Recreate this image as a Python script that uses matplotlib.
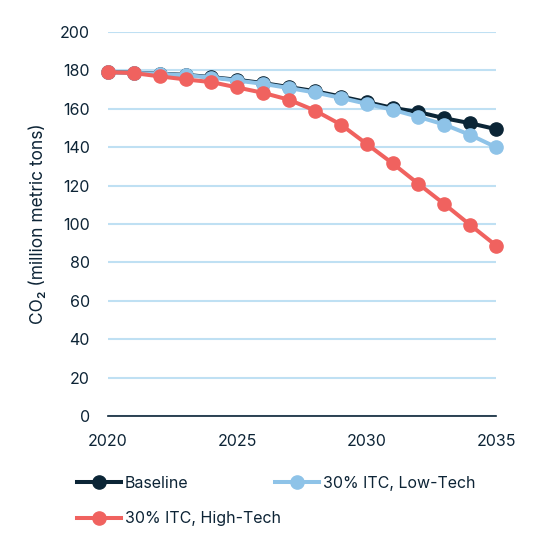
import matplotlib
matplotlib.use("Agg")
import matplotlib.pyplot as plt

# --- Data ---
years = list(range(2020, 2036))
baseline = [179.1, 178.8, 178.3, 177.7, 176.5, 175.1, 173.4, 171.3,
            169.2, 166.4, 163.5, 160.5, 158.3, 155.1, 152.5, 149.4]
low_tech = [179.0, 178.7, 178.2, 177.5, 176.3, 174.7, 173.0, 170.8,
            168.5, 165.7, 162.6, 159.5, 155.8, 151.8, 146.4, 140.0]
high_tech = [179.1, 178.6, 176.9, 175.3, 173.9, 171.1, 168.3, 164.7,
             159.1, 151.8, 141.7, 131.6, 120.9, 110.4, 99.5, 88.8]
labels = ["Baseline", "30% ITC, Low-Tech", "30% ITC, High-Tech"]
xticks = [2020, 2025, 2030, 2035]
yticks = list(range(0, 201, 20))

# --- Style ---
text_col = "#0d2436"
grid_col = "#bfe0f3"
colors = ["#0b2536", "#8ec3e8", "#f0625f"]
plt.rcParams['font.family'] = ['Inter', 'DejaVu Sans']
plt.rcParams['font.size'] = 11.5
plt.rcParams['text.color'] = text_col

fig = plt.figure(figsize=(5.42, 5.37), dpi=100)
ax = fig.add_axes([0.1993, 0.2253, 0.7159, 0.7151])

series = [baseline, low_tech, high_tech]
handles = []
for vals, c, lab in zip(series, colors, labels):
    h, = ax.plot(years, vals, color=c, lw=2.9, marker='o', ms=9.5,
                 label=lab, clip_on=False, zorder=3)
    handles.append(h)

ax.set_xlim(2020, 2035)
ax.set_ylim(0, 200)
ax.set_xticks(xticks)
ax.set_yticks(yticks)
ax.tick_params(length=0, colors=text_col, labelsize=11.5)
ax.tick_params(axis='x', pad=13)
ax.tick_params(axis='y', pad=13)
for s in ['top', 'right', 'left']:
    ax.spines[s].set_visible(False)
ax.spines['bottom'].set_color(text_col)
ax.spines['bottom'].set_linewidth(1.2)
ax.grid(axis='y', color=grid_col, lw=1.5)
ax.set_axisbelow(True)
ax.set_ylabel("CO₂ (million metric tons)", color=text_col, fontsize=12.5, labelpad=9)

# legend in row order: Baseline, Low-Tech / High-Tech
order = [0, 2, 1]
fig.legend([handles[i] for i in order], [labels[i] for i in order],
           ncol=2, loc='upper left', bbox_to_anchor=(0.142, 0.114),
           frameon=False, handlelength=2.75, handletextpad=0.25,
           columnspacing=-0.35, labelspacing=1.28, fontsize=11.5,
           borderaxespad=0, borderpad=0)

fig.savefig("out.png", dpi=100)
